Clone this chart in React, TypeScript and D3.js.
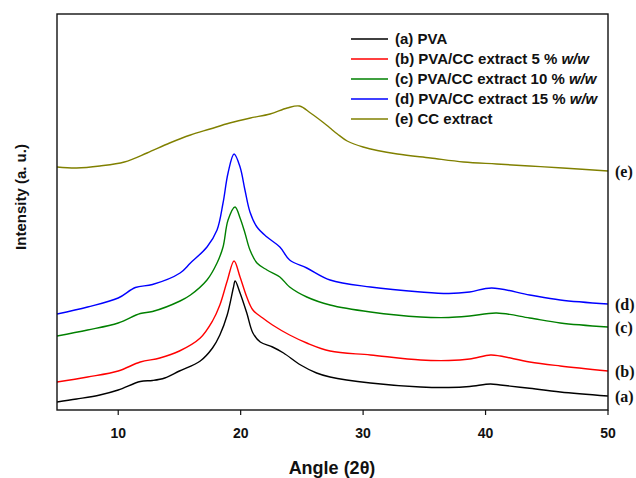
import React from 'react';
import * as d3 from 'd3';

// XRD patterns, 2θ (deg) vs intensity (a.u., stacked)
const angleA = [5, 6.6, 8.5, 10, 11.8, 12.8, 13.8, 15, 16.7, 17.7, 18.3, 18.9, 19.4, 19.55, 19.95, 20.5, 21, 21.6, 22.6, 23.5, 24.9, 26.2, 27.3, 30.6, 34.7, 37, 38.7, 40.4, 41.2, 43.4, 46.1, 50];
const intA = [80, 110, 150, 200, 285, 295, 320, 390, 490, 620, 750, 950, 1220, 1290, 1170, 970, 770, 680, 630, 570, 450, 370, 330, 270, 230, 225, 235, 260, 250, 220, 180, 140];

const angleB = [5, 7.5, 10, 11.8, 13.4, 15, 16.7, 17.7, 18.3, 18.9, 19.46, 19.95, 20.5, 21, 21.8, 22.6, 24, 25.4, 27.3, 30.6, 34.7, 37, 38.7, 40.4, 41.2, 43.6, 46.1, 50];
const intB = [280, 330, 390, 480, 520, 590, 720, 890, 1050, 1290, 1490, 1330, 1130, 1000, 920, 850, 750, 670, 590, 550, 500, 495, 510, 550, 540, 480, 440, 390];

const angleC = [5, 7.5, 10, 11.8, 12.8, 15.05, 15.9, 17.25, 18.07, 18.56, 18.97, 19.54, 19.95, 20.35, 20.76, 21.33, 22.15, 23.2, 24, 25.4, 27.3, 30.6, 34.7, 37, 38.7, 40.9, 43.6, 46.1, 50];
const intC = [740, 800, 870, 965, 985, 1090, 1150, 1300, 1470, 1630, 1900, 2030, 1920, 1770, 1600, 1470, 1400, 1330, 1230, 1130, 1050, 980, 930, 925, 940, 970, 920, 870, 830];

const angleD = [5, 7.5, 10, 11.4, 12.8, 15.05, 15.9, 17.25, 18.07, 18.56, 18.97, 19.46, 19.95, 20.35, 20.76, 21.33, 22.15, 23.2, 24, 25.4, 27.3, 30.6, 34.7, 37, 38.7, 40.5, 43.6, 46.1, 50];
const intD = [960, 1030, 1120, 1225, 1255, 1370, 1470, 1630, 1800, 2070, 2370, 2560, 2430, 2200, 1980, 1830, 1730, 1630, 1500, 1420, 1300, 1230, 1180, 1165, 1180, 1220, 1150, 1100, 1060];

const angleE = [5, 6.6, 8.5, 10.5, 12.35, 14.2, 15.9, 17.5, 19.1, 20.8, 22.4, 23.8, 24.8, 25.7, 26.8, 27.3, 27.9, 28.7, 30, 32.8, 35.5, 38.2, 40.9, 43.6, 46.3, 50];
const intE = [2430, 2420, 2440, 2480, 2570, 2670, 2750, 2810, 2870, 2920, 2960, 3020, 3040, 2970, 2870, 2820, 2760, 2690, 2630, 2560, 2520, 2480, 2460, 2440, 2420, 2390];

const seriesNames = [
  ['(a) PVA', ''],
  ['(b) PVA/CC extract 5 % ', 'w/w'],
  ['(c) PVA/CC extract 10 % ', 'w/w'],
  ['(d) PVA/CC extract 15 % ', 'w/w'],
  ['(e) CC extract', ''],
];
const sideLabels = ['(a)', '(b)', '(c)', '(d)', '(e)'];
const colors = ['#000000', '#ff0000', '#008000', '#0000ff', '#808000'];
const xTicks = [10, 20, 30, 40, 50];

const left = 57, right = 608, top = 14, bottom = 410;

const App = () => {
  const x = d3.scaleLinear().domain([5, 50]).range([left, right]);
  const y = d3.scaleLinear().domain([0, 3960]).range([bottom, top]);

  const series = [
    [angleA, intA],
    [angleB, intB],
    [angleC, intC],
    [angleD, intD],
    [angleE, intE],
  ];

  const line = d3.line<[number, number]>()
    .x((d) => x(d[0]))
    .y((d) => y(d[1]))
    .curve(d3.curveCatmullRom.alpha(0.5));

  const font = '"Liberation Sans", Arial, sans-serif';

  return (
    <svg width={636} height={478} style={{ position: 'absolute', left: 0, top: 0 }}>
      <defs>
        <clipPath id="plotClip">
          <rect x={left} y={top} width={right - left} height={bottom - top} />
        </clipPath>
      </defs>

      <g clipPath="url(#plotClip)">
        {series.map(([xs, ys], i) => (
          <path
            key={i}
            d={line(xs.map((v, j) => [v, ys[j]] as [number, number])) || ''}
            fill="none"
            stroke={colors[i]}
            strokeWidth={1.4}
          />
        ))}
      </g>

      <rect x={left} y={top} width={right - left} height={bottom - top} fill="none" stroke="#111" strokeWidth={1.4} />

      {xTicks.map((t) => (
        <g key={t}>
          <line x1={x(t)} x2={x(t)} y1={bottom} y2={bottom + 5} stroke="#111" strokeWidth={1.2} />
          <text x={x(t)} y={438} textAnchor="middle" fontFamily={font} fontWeight="bold" fontSize={14} fill="#111">{t}</text>
        </g>
      ))}

      <text x={332} y={474} textAnchor="middle" fontFamily={font} fontWeight="bold" fontSize={18} fill="#111">Angle (2θ)</text>
      <text transform="translate(26,197) rotate(-90)" textAnchor="middle" fontFamily={font} fontWeight="bold" fontSize={15} fill="#111">Intensity (a. u.)</text>

      {seriesNames.map((n, i) => (
        <g key={i}>
          <line x1={351} x2={388} y1={39 + i * 20} y2={39 + i * 20} stroke={colors[i]} strokeWidth={1.3} />
          <text x={395} y={44 + i * 20} fontFamily={font} fontWeight="bold" fontSize={15} fill="#111">
            {n[0]}
            {n[1] && <tspan fontStyle="italic">{n[1]}</tspan>}
          </text>
        </g>
      ))}

      {series.map(([xs, ys], i) => (
        <text key={i} x={615} y={y(ys[ys.length - 1]) + 6} fontFamily='"Liberation Serif", "Times New Roman", serif' fontWeight="bold" fontSize={16} fill="#111">
          {sideLabels[i]}
        </text>
      ))}
    </svg>
  );
};

export default App;
